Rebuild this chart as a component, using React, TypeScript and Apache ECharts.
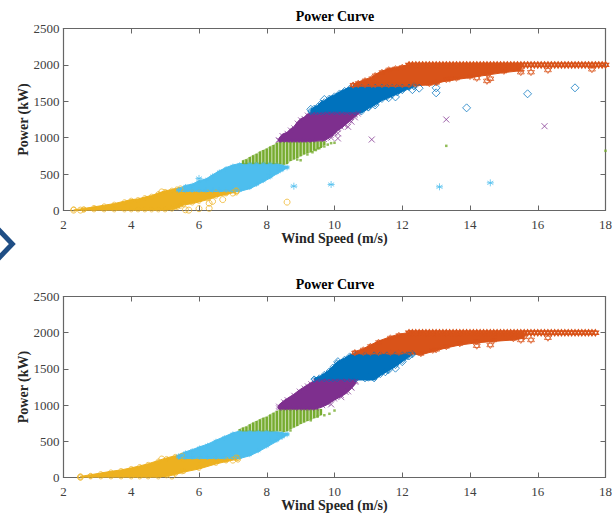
import React, { useEffect, useRef } from "react";
import * as echarts from "echarts";

// Colours of the six power bins
const YELLOW = "#EDB120";
const CYAN = "#4DBEEE";
const GREEN = "#77AC30";
const PURPLE = "#7E2F8E";
const BLUE = "#0072BD";
const ORANGE = "#D95319";

const xTicksMin = 2;
const xTicksMax = 18;
const yTicksMax = 2500;

// Envelope rows: [wind speed, lowest power, highest power]
const yellowA = [[2.3,0,8],[2.6,0,28],[2.9,0,50],[3.2,0,72],[3.5,0,95],[3.8,0,128],[4.0,0,150],[4.2,0,158],[4.4,0,185],[4.6,0,205],[4.8,0,240],[5.0,0,270],[5.2,10,288],[5.35,30,305],[5.45,50,318],[5.55,75,262],[5.8,95,262],[6.0,118,262],[6.25,150,262],[6.5,187,262],[6.8,220,262],[7.1,255,262]];
const cyanA = [[5.4,262,300],[5.6,262,345],[5.8,262,362],[6.0,262,410],[6.2,262,432],[6.4,262,490],[6.6,262,545],[6.8,262,590],[7.0,262,625],[7.2,262,645],[7.5,300,650],[7.7,345,650],[7.9,395,650],[8.1,445,650],[8.3,505,640],[8.45,545,625],[8.6,585,600]];
const greenA = [[7.3,640,690],[7.4,640,705],[7.5,640,735],[7.6,640,760],[7.7,640,780],[7.8,640,810],[7.9,640,830],[8.0,640,850],[8.1,640,880],[8.2,640,900],[8.3,640,930],[8.4,640,950],[8.5,630,950],[8.6,640,950],[8.7,680,950],[8.8,700,950],[8.9,720,950],[9.0,745,950],[9.1,770,950],[9.2,790,950],[9.3,800,950],[9.4,820,950],[9.5,840,950],[9.6,860,950],[9.7,900,950]];
const purpleA = [[8.35,950,985],[8.45,950,1045],[8.6,950,1075],[8.7,950,1120],[8.8,950,1150],[8.9,950,1215],[9.0,950,1260],[9.1,950,1280],[9.2,950,1325],[9.35,950,1340],[9.7,960,1340],[9.8,985,1340],[9.9,1015,1340],[10.0,1050,1340],[10.1,1100,1340],[10.2,1130,1340],[10.3,1170,1340],[10.45,1225,1340],[10.6,1295,1340],[10.7,1330,1340]];
const blueA = [[9.3,1340,1385],[9.4,1340,1420],[9.5,1340,1445],[9.6,1340,1490],[9.7,1340,1510],[9.85,1340,1560],[10.0,1340,1590],[10.15,1340,1630],[10.3,1340,1665],[10.45,1340,1695],[10.6,1340,1710],[10.8,1340,1710],[11.0,1400,1710],[11.2,1450,1710],[11.4,1510,1710],[11.55,1540,1710],[11.7,1570,1710],[11.85,1600,1710],[12.0,1630,1710],[12.2,1675,1710],[12.35,1700,1710]];
const orangeA = [[10.55,1710,1735],[10.7,1710,1765],[10.9,1710,1800],[11.1,1710,1830],[11.2,1710,1870],[11.4,1710,1915],[11.6,1710,1950],[11.8,1710,1965],[12.0,1710,1985],[12.2,1710,2005],[12.4,1715,2005],[12.8,1725,2005],[13.0,1745,2005],[13.3,1780,2005],[13.6,1800,2005],[14.0,1825,2005],[14.5,1860,2005],[15.0,1895,2005],[15.5,1920,2005]];

const yellowB = [[2.5,0,15],[2.8,0,38],[3.1,0,62],[3.4,0,85],[3.7,0,105],[4.0,0,133],[4.25,0,160],[4.5,0,190],[4.8,0,235],[5.04,15,271],[5.3,40,300],[5.5,70,318],[5.55,75,262],[6.0,118,262],[6.5,187,262],[6.8,220,262],[7.15,255,262]];
const cyanB = [[5.4,262,315],[5.6,262,355],[5.8,262,385],[6.02,262,424],[6.25,262,460],[6.5,262,516],[6.75,262,565],[7.0,262,617],[7.2,262,640],[7.5,300,640],[7.75,355,640],[8.0,420,640],[8.3,500,630],[8.45,545,620],[8.6,590,605]];
const greenB = [[7.2,640,670],[7.3,640,690],[7.4,640,705],[7.5,640,735],[7.6,640,760],[7.7,640,780],[7.8,640,805],[7.9,640,825],[8.0,640,840],[8.1,640,870],[8.2,640,895],[8.3,640,920],[8.4,640,945],[8.5,630,945],[8.6,640,945],[8.7,670,945],[8.8,690,945],[8.9,710,945],[9.0,740,945],[9.1,760,945],[9.2,780,945],[9.3,800,945],[9.4,820,945],[9.5,840,945],[9.6,860,945]];
const purpleB = [[8.35,945,1000],[8.5,945,1060],[8.6,945,1090],[8.8,945,1150],[8.96,945,1208],[9.1,945,1250],[9.2,945,1280],[9.3,945,1310],[9.45,945,1347],[9.65,977,1347],[9.8,1010,1347],[10.0,1070,1347],[10.2,1120,1347],[10.34,1162,1347],[10.5,1230,1347],[10.63,1300,1347]];
const blueB = [[9.4,1347,1370],[9.55,1347,1392],[9.7,1347,1440],[9.84,1347,1485],[9.95,1347,1540],[10.08,1347,1600],[10.3,1347,1650],[10.45,1347,1695],[10.63,1347,1710],[10.9,1347,1710],[11.17,1347,1710],[11.35,1405,1710],[11.55,1462,1710],[11.8,1530,1710],[12.0,1600,1710],[12.15,1650,1710],[12.3,1700,1710]];
const orangeB = [[10.6,1710,1738],[10.85,1710,1780],[11.06,1710,1830],[11.3,1710,1885],[11.65,1710,1945],[11.9,1710,1980],[12.24,1710,2005],[12.55,1693,2005],[12.9,1740,2005],[13.3,1790,2005],[13.7,1830,2005],[14.2,1860,2005],[14.7,1880,2005],[15.28,1900,2005],[15.6,1925,2005]];

// Isolated markers: [wind speed, power]
const yellowLooseA = [[2.3,5],[2.5,5],[5.6,10],[5.7,5],[6.0,25],[6.3,30],[6.3,100],[6.4,125],[6.7,150],[7.0,240],[7.1,270],[8.6,115],[4.9,255]];
const cyanLooseA = [[6.0,440],[8.8,334],[9.9,357],[13.1,325],[14.6,380],[8.1,505],[8.4,560]];
const greenLooseA = [[13.3,888],[18.0,820],[8.9,700],[9.0,690],[9.2,770],[9.35,800],[9.45,830],[9.55,855],[9.7,880],[9.8,905],[9.9,925],[10.0,930]];
const purpleLooseA = [[11.1,975],[13.3,1250],[16.2,1158],[9.9,1000],[10.1,1060],[10.3,1170],[10.4,1150],[10.5,1220],[10.6,1280],[10.1,990]];
const blueLooseA = [[9.7,1525],[13.9,1410],[15.7,1603],[17.1,1685],[13.0,1616],[13.0,1685],[12.5,1680],[12.3,1660],[11.8,1560],[11.6,1550],[11.2,1450],[11.0,1420],[9.3,1390]];
const orangeLooseA = [[14.2,1820],[14.5,1780],[14.6,1810],[13.4,1810],[15.5,1900],[15.8,1900],[16.3,1930],[17.6,1940],[13.0,1760]];

const yellowLooseB = [[2.5,5],[4.9,255],[7.0,240],[7.1,270],[5.2,20]];
const cyanLooseB = [[8.45,570],[8.1,505]];
const greenLooseB = [[9.7,860],[9.85,880],[10.0,925],[9.5,840],[9.3,790],[8.7,650]];
const purpleLooseB = [[9.9,1010],[10.2,1110],[10.4,1190],[10.5,1240]];
const blueLooseB = [[11.0,1385],[11.2,1400],[11.5,1460],[11.6,1490],[11.8,1510],[12.0,1600],[12.2,1680],[10.1,1600]];
const orangeLooseB = [[14.2,1820],[14.6,1830],[15.5,1900],[15.8,1900],[16.3,1930],[13.0,1770]];

// Speeds of the rated-power markers that make the right-hand tail
const ratedPower = 2000;
const tailSpeedsA = [12.2,12.3,12.4,12.5,12.6,12.7,12.8,12.9,13.0,13.1,13.2,13.3,13.4,13.5,13.6,13.7,13.8,13.9,14.0,14.1,14.2,14.3,14.4,14.5,14.6,14.7,14.8,14.9,15.0,15.1,15.2,15.3,15.4,15.5,15.6,15.7,15.8,15.9,16.0,16.1,16.2,16.3,16.4,16.5,16.6,16.7,16.8,16.9,17.0,17.1,17.2,17.3,17.4,17.5,17.6,17.7,17.8,17.9,18.0];
const tailSpeedsB = [12.2,12.3,12.4,12.5,12.6,12.7,12.8,12.9,13.0,13.1,13.2,13.3,13.4,13.5,13.6,13.7,13.8,13.9,14.0,14.1,14.2,14.3,14.4,14.5,14.6,14.7,14.8,14.9,15.0,15.1,15.2,15.3,15.4,15.5,15.6,15.7,15.8,15.9,16.0,16.1,16.2,16.3,16.4,16.5,16.6,16.7,16.8,16.9,17.0,17.1,17.2,17.3,17.4,17.5,17.6,17.7];

const SERIF = "'Liberation Serif', 'Times New Roman', serif";
const SPINE = "#666666";

const SYM_STAR = "path://M5 0L5 10M0.7 2.5L9.3 7.5M0.7 7.5L9.3 2.5M0 5L10 5";
const SYM_X = "path://M0 0L10 10M0 10L10 0";
const SYM_HEX = "path://M5 0L9.33 7.5L0.67 7.5ZM5 10L0.67 2.5L9.33 2.5Z";
const EDGE_INSET = 15;

function bandSeries(rows: number[][], color: string, ax: number, z: number, opacity = 1) {
  return {
    type: "custom",
    coordinateSystem: "cartesian2d",
    xAxisIndex: ax,
    yAxisIndex: ax,
    z,
    clip: true,
    silent: true,
    data: rows,
    encode: { x: 0, y: [1, 2] },
    renderItem: (params: any, api: any) => {
      if (params.dataIndex !== 0) return null;
      const up = rows.map((r) => api.coord([r[0], r[2]]));
      const down = rows.slice().reverse().map((r) => api.coord([r[0], r[1]]));
      return {
        type: "polygon",
        shape: { points: [...up, ...down] },
        style: { fill: color, stroke: color, lineWidth: 1, opacity },
      };
    },
  };
}

function columnSeries(rows: number[][], color: string, ax: number, z: number) {
  return {
    type: "custom",
    coordinateSystem: "cartesian2d",
    xAxisIndex: ax,
    yAxisIndex: ax,
    z,
    clip: true,
    silent: true,
    data: rows,
    encode: { x: 0, y: [1, 2] },
    renderItem: (_p: any, api: any) => {
      const top = api.coord([api.value(0), api.value(2)]);
      const bottom = api.coord([api.value(0), api.value(1)]);
      return {
        type: "rect",
        shape: { x: top[0] - 1.2, y: top[1], width: 2.4, height: bottom[1] - top[1] },
        style: { fill: color },
      };
    },
  };
}

function markerSeries(points: number[][], symbol: string, size: number, color: string, ax: number, z: number, filled = false, width = 1, opacity = 0.75) {
  return {
    type: "scatter",
    xAxisIndex: ax,
    yAxisIndex: ax,
    z,
    silent: true,
    symbol,
    symbolSize: size,
    clip: true,
    data: points,
    itemStyle: filled
      ? { color }
      : { color: "rgba(0,0,0,0)", borderColor: color, borderWidth: width, opacity },
  };
}

function edgePoints(rows: number[][]) {
  return rows.flatMap((r) => [[r[0], r[1] + EDGE_INSET], [r[0], r[2] - EDGE_INSET]]);
}

function panel(ax: number, d: any) {
  return [
    bandSeries(d.yellow, YELLOW, ax, 2),
    bandSeries(d.cyan, CYAN, ax, 3),
    bandSeries(d.green, GREEN, ax, 3, 0.35),
    columnSeries(d.green, GREEN, ax, 4),
    bandSeries(d.blue, BLUE, ax, 4),
    bandSeries(d.orange, ORANGE, ax, 4),
    bandSeries(d.purple, PURPLE, ax, 5),
    markerSeries(edgePoints(d.yellow), "circle", 5, YELLOW, ax, 6, false, 1, 0.7),
    markerSeries(edgePoints(d.cyan), SYM_STAR, 5, CYAN, ax, 6, false, 1, 0.7),
    markerSeries(edgePoints(d.purple), SYM_X, 5, PURPLE, ax, 6, false, 1, 0.7),
    markerSeries(edgePoints(d.blue), "diamond", 6, BLUE, ax, 6, false, 1, 0.7),
    markerSeries(edgePoints(d.orange), SYM_HEX, 6, ORANGE, ax, 6, false, 1, 0.7),
    markerSeries(d.yellowLoose, "circle", 6, YELLOW, ax, 7),
    markerSeries(d.cyanLoose, SYM_STAR, 7, CYAN, ax, 7),
    markerSeries(d.greenLoose, "rect", 2.5, GREEN, ax, 7, true),
    markerSeries(d.purpleLoose, SYM_X, 6, PURPLE, ax, 7),
    markerSeries(d.blueLoose, "diamond", 8, BLUE, ax, 7),
    markerSeries(d.orangeLoose, SYM_HEX, 7, ORANGE, ax, 7),
    markerSeries(d.tail.map((x: number) => [x, ratedPower]), SYM_HEX, 6.5, ORANGE, ax, 7, false, 1.1, 1),
  ];
}

function xAxes(gridIndex: number) {
  const base = {
    type: "value",
    gridIndex,
    min: xTicksMin,
    max: xTicksMax,
    interval: 2,
    splitLine: { show: false },
    axisLine: { show: true, onZero: false, lineStyle: { color: SPINE, width: 1.2 } },
    axisTick: { inside: true, length: 5, lineStyle: { color: SPINE, width: 1 } },
  };
  return [
    {
      ...base,
      position: "bottom",
      name: "Wind Speed (m/s)",
      nameLocation: "middle",
      nameGap: 21,
      nameMoveOverlap: false,
      nameTextStyle: { fontFamily: SERIF, fontWeight: "bold", fontSize: 14, color: "#262626" },
      axisLabel: { fontFamily: SERIF, fontSize: 13, color: "#404040", margin: 7, hideOverlap: false, formatter: (v: number) => String(v) },
    },
    { ...base, position: "top", axisLabel: { show: false } },
  ];
}

function yAxes(gridIndex: number) {
  const base = {
    type: "value",
    gridIndex,
    min: 0,
    max: yTicksMax,
    interval: 500,
    splitLine: { show: false },
    axisLine: { show: true, onZero: false, lineStyle: { color: SPINE, width: 1.2 } },
    axisTick: { inside: true, length: 5, lineStyle: { color: SPINE, width: 1 } },
  };
  return [
    {
      ...base,
      position: "left",
      name: "Power (kW)",
      nameLocation: "middle",
      nameGap: 33,
      nameMoveOverlap: false,
      nameTextStyle: { fontFamily: SERIF, fontWeight: "bold", fontSize: 14, color: "#262626" },
      axisLabel: { fontFamily: SERIF, fontSize: 13, color: "#404040", margin: 4, formatter: (v: number) => String(v) },
    },
    { ...base, position: "right", axisLabel: { show: false } },
  ];
}

export default function App() {
  const ref = useRef<HTMLDivElement>(null);
  useEffect(() => {
    document.body.style.margin = "0";
    const chart = echarts.init(ref.current as HTMLDivElement, undefined, { renderer: "svg" });
    const a = { yellow: yellowA, cyan: cyanA, green: greenA, purple: purpleA, blue: blueA, orange: orangeA, yellowLoose: yellowLooseA, cyanLoose: cyanLooseA, greenLoose: greenLooseA, purpleLoose: purpleLooseA, blueLoose: blueLooseA, orangeLoose: orangeLooseA, tail: tailSpeedsA };
    const b = { yellow: yellowB, cyan: cyanB, green: greenB, purple: purpleB, blue: blueB, orange: orangeB, yellowLoose: yellowLooseB, cyanLoose: cyanLooseB, greenLoose: greenLooseB, purpleLoose: purpleLooseB, blueLoose: blueLooseB, orangeLoose: orangeLooseB, tail: tailSpeedsB };
    chart.setOption({
      animation: false,
      backgroundColor: "#ffffff",
      title: [
        { text: "Power Curve", left: 330, top: 4, textAlign: "center", textStyle: { fontFamily: SERIF, fontWeight: "bold", fontSize: 14, color: "#000000" } },
        { text: "Power Curve", left: 330, top: 272, textAlign: "center", textStyle: { fontFamily: SERIF, fontWeight: "bold", fontSize: 14, color: "#000000" } },
      ],
      grid: [
        { left: 63.5, top: 28.5, width: 544, height: 182 },
        { left: 63.5, top: 296.5, width: 544, height: 181 },
      ],
      xAxis: [...xAxes(0), ...xAxes(1)],
      yAxis: [...yAxes(0), ...yAxes(1)],
      graphic: [
        {
          type: "polyline",
          silent: true,
          shape: { points: [[-5, 226], [12.3, 244], [-5, 262]] },
          style: { stroke: "#1F4E85", lineWidth: 5, fill: "none", lineJoin: "miter" },
        },
      ],
      series: [...panel(0, a), ...panel(2, b)],
    });
    return () => chart.dispose();
  }, []);
  return <div ref={ref} style={{ width: 615, height: 515 }} />;
}
